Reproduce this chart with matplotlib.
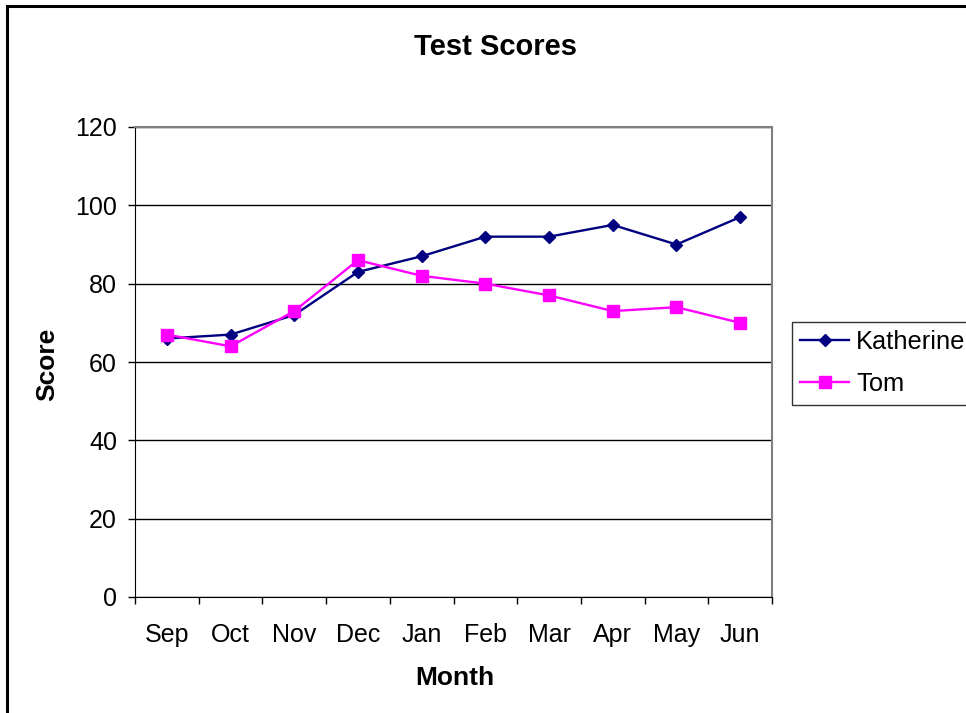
import matplotlib.pyplot as plt
from matplotlib.patches import Rectangle

months = ['Sep', 'Oct', 'Nov', 'Dec', 'Jan', 'Feb', 'Mar', 'Apr', 'May', 'Jun']
katherine = [66, 67, 72, 83, 87, 92, 92, 95, 90, 97]
tom = [67, 64, 73, 86, 82, 80, 77, 73, 74, 70]
yticks = [0, 20, 40, 60, 80, 100, 120]

plt.rcParams['font.family'] = ['Liberation Sans', 'DejaVu Sans']

W, H = 966, 713
fig = plt.figure(figsize=(W / 100, H / 100), dpi=100)
ax = fig.add_axes([135 / W, 1 - 597 / H, (772 - 135) / W, (597 - 127) / H])

x = list(range(len(months)))
ax.plot(x, katherine, color='#000080', lw=1.7, marker='D', ms=6.6, label='Katherine', zorder=3)
ax.plot(x, tom, color='#FF00FF', lw=1.7, marker='s', ms=8.2, label='Tom', zorder=3)

ax.set_xlim(-0.5, len(months) - 0.5)
ax.set_ylim(0, 120)
ax.set_yticks(yticks)
ax.yaxis.grid(True, color='black', lw=1.0)
ax.set_axisbelow(True)

ax.set_xticks(x)
ax.set_xticklabels(months)
ax.set_xticks([i - 0.5 for i in range(len(months) + 1)], minor=True)
ax.tick_params(axis='x', which='major', length=0, pad=19, labelsize=18)
ax.tick_params(axis='x', which='minor', length=5, width=1, direction='out')
ax.tick_params(axis='y', length=5, width=1, pad=8, labelsize=18)

for side in ['top', 'right']:
    ax.spines[side].set_color('#808080')
    ax.spines[side].set_linewidth(1.5)
ax.spines['left'].set_color('black')
ax.spines['bottom'].set_color('black')

fig.text(495 / W, 1 - 47 / H, 'Test Scores', ha='center', va='center',
         fontsize=21, fontweight='bold')
fig.text(455 / W, 1 - 678 / H, 'Month', ha='center', va='center',
         fontsize=19, fontweight='bold')
fig.text(47 / W, 1 - 364 / H, 'Score', ha='center', va='center',
         fontsize=19, fontweight='bold', rotation=90)

leg = fig.legend(loc='upper left', bbox_to_anchor=(792 / W, 1 - 322 / H),
                 fontsize=18.3, frameon=True, fancybox=False, edgecolor='black',
                 handlelength=1.9, handletextpad=0.3, labelspacing=0.7,
                 borderpad=0.33, borderaxespad=0)
leg.get_frame().set_linewidth(1.0)

fig.patches.append(Rectangle((7 / W, -0.1), 1.2, 1 - 6 / H + 0.1,
                             transform=fig.transFigure, fill=False,
                             edgecolor='black', lw=2.2))

fig.savefig('out.png', dpi=100)
